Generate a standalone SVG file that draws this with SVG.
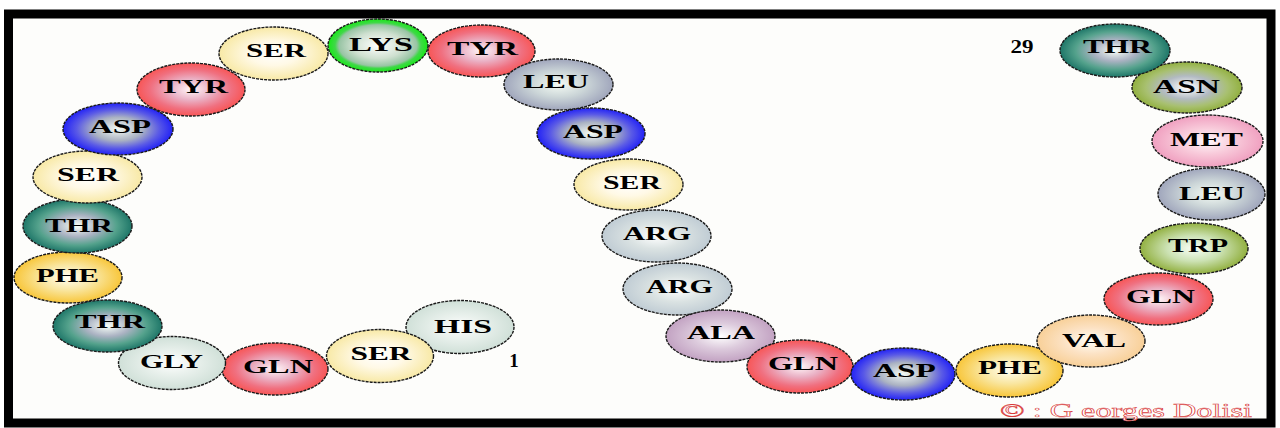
<svg xmlns="http://www.w3.org/2000/svg" width="1280" height="428" viewBox="0 0 1280 428">
<style>
.b{stroke:#1a1a1a;stroke-width:1.4;stroke-dasharray:3 1}
.t{font-family:"Liberation Serif","Times New Roman",serif;font-weight:bold;font-size:19px;fill:#000;text-anchor:middle}
.n{font-family:"Liberation Serif","Times New Roman",serif;font-weight:bold;font-size:19px;fill:#000;text-anchor:middle}
</style>
<defs>
<radialGradient id="gSER"><stop offset="0" stop-color="#ffffff"/><stop offset="0.45" stop-color="#fff9e6"/><stop offset="1" stop-color="#f8e9a6"/></radialGradient>
<radialGradient id="gLYS"><stop offset="0" stop-color="#ffffff"/><stop offset="0.5" stop-color="#cfe0d0"/><stop offset="0.78" stop-color="#98c4a4"/><stop offset="0.86" stop-color="#40d848"/><stop offset="1" stop-color="#18e818"/></radialGradient>
<radialGradient id="gRED"><stop offset="0" stop-color="#fff6f8"/><stop offset="0.4" stop-color="#eab0c4"/><stop offset="0.75" stop-color="#f07080"/><stop offset="1" stop-color="#f85656"/></radialGradient>
<radialGradient id="gLEU"><stop offset="0" stop-color="#f4fbf4"/><stop offset="0.5" stop-color="#ccd6d8"/><stop offset="1" stop-color="#a0a6bc"/></radialGradient>
<radialGradient id="gASP"><stop offset="0" stop-color="#f4fbf4"/><stop offset="0.45" stop-color="#aab2c2"/><stop offset="0.75" stop-color="#5a5ae6"/><stop offset="1" stop-color="#2222f6"/></radialGradient>
<radialGradient id="gTHR"><stop offset="0" stop-color="#f8fff8"/><stop offset="0.4" stop-color="#aab2c2"/><stop offset="0.72" stop-color="#54a28c"/><stop offset="1" stop-color="#1e7668"/></radialGradient>
<radialGradient id="gPHE"><stop offset="0" stop-color="#fffff4"/><stop offset="0.5" stop-color="#f9e6a0"/><stop offset="1" stop-color="#f8c63a"/></radialGradient>
<radialGradient id="gGLY"><stop offset="0" stop-color="#ffffff"/><stop offset="0.4" stop-color="#ebf2ee"/><stop offset="1" stop-color="#d0e0d8"/></radialGradient>
<radialGradient id="gARG"><stop offset="0" stop-color="#ffffff"/><stop offset="0.5" stop-color="#dae2e2"/><stop offset="1" stop-color="#c0ccd4"/></radialGradient>
<radialGradient id="gALA"><stop offset="0" stop-color="#ffffff"/><stop offset="0.5" stop-color="#dccadc"/><stop offset="1" stop-color="#c2a2c2"/></radialGradient>
<radialGradient id="gVAL"><stop offset="0" stop-color="#fffff8"/><stop offset="0.5" stop-color="#fce2c4"/><stop offset="1" stop-color="#f8d098"/></radialGradient>
<radialGradient id="gTRP"><stop offset="0" stop-color="#f8fff8"/><stop offset="0.5" stop-color="#cce2b4"/><stop offset="1" stop-color="#92b040"/></radialGradient>
<radialGradient id="gASN"><stop offset="0" stop-color="#ffffff"/><stop offset="0.45" stop-color="#b2bac2"/><stop offset="0.75" stop-color="#a8c070"/><stop offset="1" stop-color="#92b040"/></radialGradient>
<radialGradient id="gMET"><stop offset="0" stop-color="#fff8fa"/><stop offset="0.5" stop-color="#f8cada"/><stop offset="1" stop-color="#f0a0c0"/></radialGradient>
</defs>
<rect x="0" y="0" width="1280" height="428" fill="#ffffff"/>
<rect x="8.5" y="14" width="1262.5" height="409" fill="#fdfdfb" stroke="#000" stroke-width="9"/>
<g id="connectors"/>
<g id="r1"><ellipse cx="460" cy="327" rx="54" ry="26.5" fill="url(#gGLY)" class="b"/><text class="t" x="463" y="333" textLength="58" lengthAdjust="spacingAndGlyphs">HIS</text></g>
<g id="r2"><ellipse cx="380" cy="356" rx="53.5" ry="26.5" fill="url(#gSER)" class="b"/><text class="t" x="381" y="360" textLength="61" lengthAdjust="spacingAndGlyphs">SER</text></g>
<g id="r3"><ellipse cx="275" cy="369" rx="53" ry="26" fill="url(#gRED)" class="b"/><text class="t" x="278" y="373" textLength="70" lengthAdjust="spacingAndGlyphs">GLN</text></g>
<g id="r4"><ellipse cx="172" cy="363" rx="53.5" ry="26.5" fill="url(#gGLY)" class="b"/><text class="t" x="171.5" y="368" textLength="63" lengthAdjust="spacingAndGlyphs">GLY</text></g>
<g id="r5"><ellipse cx="107.5" cy="326" rx="54.5" ry="26" fill="url(#gTHR)" class="b"/><text class="t" x="110" y="328" textLength="70" lengthAdjust="spacingAndGlyphs">THR</text></g>
<g id="r6"><ellipse cx="68" cy="277.5" rx="54" ry="25.5" fill="url(#gPHE)" class="b"/><text class="t" x="67.5" y="282" textLength="63" lengthAdjust="spacingAndGlyphs">PHE</text></g>
<g id="r7"><ellipse cx="77.5" cy="226" rx="54.5" ry="27" fill="url(#gTHR)" class="b"/><text class="t" x="79" y="232" textLength="68" lengthAdjust="spacingAndGlyphs">THR</text></g>
<g id="r8"><ellipse cx="87.5" cy="177" rx="54.5" ry="26" fill="url(#gSER)" class="b"/><text class="t" x="88" y="181" textLength="62" lengthAdjust="spacingAndGlyphs">SER</text></g>
<g id="r9"><ellipse cx="118" cy="129" rx="55" ry="26" fill="url(#gASP)" class="b"/><text class="t" x="120" y="133" textLength="62" lengthAdjust="spacingAndGlyphs">ASP</text></g>
<g id="r10"><ellipse cx="191" cy="89.5" rx="54" ry="26.5" fill="url(#gRED)" class="b"/><text class="t" x="193.5" y="93" textLength="69" lengthAdjust="spacingAndGlyphs">TYR</text></g>
<g id="r11"><ellipse cx="273.5" cy="53.5" rx="54.5" ry="26.5" fill="url(#gSER)" class="b"/><text class="t" x="276" y="57" textLength="60" lengthAdjust="spacingAndGlyphs">SER</text></g>
<g id="r12"><ellipse cx="378" cy="45.5" rx="50" ry="26.5" fill="url(#gLYS)" class="b"/><text class="t" x="381" y="51" textLength="64" lengthAdjust="spacingAndGlyphs">LYS</text></g>
<g id="r13"><ellipse cx="481.5" cy="51" rx="53.5" ry="26" fill="url(#gRED)" class="b"/><text class="t" x="482.5" y="55" textLength="71" lengthAdjust="spacingAndGlyphs">TYR</text></g>
<g id="r14"><ellipse cx="558.5" cy="84.5" rx="54.5" ry="25.5" fill="url(#gLEU)" class="b"/><text class="t" x="556" y="88" textLength="66" lengthAdjust="spacingAndGlyphs">LEU</text></g>
<g id="r15"><ellipse cx="591" cy="133.5" rx="54" ry="25.5" fill="url(#gASP)" class="b"/><text class="t" x="593" y="138" textLength="60" lengthAdjust="spacingAndGlyphs">ASP</text></g>
<g id="r16"><ellipse cx="628.5" cy="184.5" rx="54.5" ry="25.5" fill="url(#gSER)" class="b"/><text class="t" x="632" y="189" textLength="58" lengthAdjust="spacingAndGlyphs">SER</text></g>
<g id="r17"><ellipse cx="656.5" cy="236" rx="54.5" ry="26" fill="url(#gARG)" class="b"/><text class="t" x="657" y="240" textLength="68" lengthAdjust="spacingAndGlyphs">ARG</text></g>
<g id="r18"><ellipse cx="677.5" cy="289" rx="54.5" ry="26" fill="url(#gARG)" class="b"/><text class="t" x="679.5" y="293" textLength="67" lengthAdjust="spacingAndGlyphs">ARG</text></g>
<g id="r19"><ellipse cx="720.5" cy="336" rx="54.5" ry="26" fill="url(#gALA)" class="b"/><text class="t" x="721" y="339" textLength="68" lengthAdjust="spacingAndGlyphs">ALA</text></g>
<g id="r20"><ellipse cx="800" cy="366.5" rx="53" ry="26.5" fill="url(#gRED)" class="b"/><text class="t" x="803" y="370" textLength="70" lengthAdjust="spacingAndGlyphs">GLN</text></g>
<g id="r21"><ellipse cx="903" cy="374" rx="52" ry="26" fill="url(#gASP)" class="b"/><text class="t" x="904.5" y="377" textLength="63" lengthAdjust="spacingAndGlyphs">ASP</text></g>
<g id="r22"><ellipse cx="1009.5" cy="370.5" rx="53.5" ry="26.5" fill="url(#gPHE)" class="b"/><text class="t" x="1010" y="374" textLength="64" lengthAdjust="spacingAndGlyphs">PHE</text></g>
<g id="r23"><ellipse cx="1091" cy="341" rx="54" ry="26" fill="url(#gVAL)" class="b"/><text class="t" x="1094" y="347" textLength="64" lengthAdjust="spacingAndGlyphs">VAL</text></g>
<g id="r24"><ellipse cx="1158.5" cy="299" rx="54.5" ry="26" fill="url(#gRED)" class="b"/><text class="t" x="1160.5" y="303" textLength="69" lengthAdjust="spacingAndGlyphs">GLN</text></g>
<g id="r25"><ellipse cx="1194" cy="248.5" rx="54" ry="25.5" fill="url(#gTRP)" class="b"/><text class="t" x="1198" y="252" textLength="60" lengthAdjust="spacingAndGlyphs">TRP</text></g>
<g id="r26"><ellipse cx="1211.5" cy="194" rx="53.5" ry="26" fill="url(#gLEU)" class="b"/><text class="t" x="1212" y="200" textLength="66" lengthAdjust="spacingAndGlyphs">LEU</text></g>
<g id="r27"><ellipse cx="1207.5" cy="141" rx="55.5" ry="26" fill="url(#gMET)" class="b"/><text class="t" x="1206.5" y="146" textLength="73" lengthAdjust="spacingAndGlyphs">MET</text></g>
<g id="r28"><ellipse cx="1187" cy="87.5" rx="55" ry="25.5" fill="url(#gASN)" class="b"/><text class="t" x="1186.5" y="93" textLength="67" lengthAdjust="spacingAndGlyphs">ASN</text></g>
<g id="r29"><ellipse cx="1115" cy="50.5" rx="55" ry="26.5" fill="url(#gTHR)" class="b"/><text class="t" x="1117.5" y="53" textLength="69" lengthAdjust="spacingAndGlyphs">THR</text></g>
<g id="num1"><text class="n" x="514" y="367">1</text></g>
<g id="num29"><text class="n" x="1022" y="53" textLength="23" lengthAdjust="spacingAndGlyphs">29</text></g>
<g id="credit"><text x="1000" y="417" font-family="Liberation Serif,Times New Roman,serif" font-size="18" fill="#ffffff" stroke="#d83838" stroke-width="0.5" textLength="252" lengthAdjust="spacingAndGlyphs">© : G eorges Dolisi</text></g>
</svg>
